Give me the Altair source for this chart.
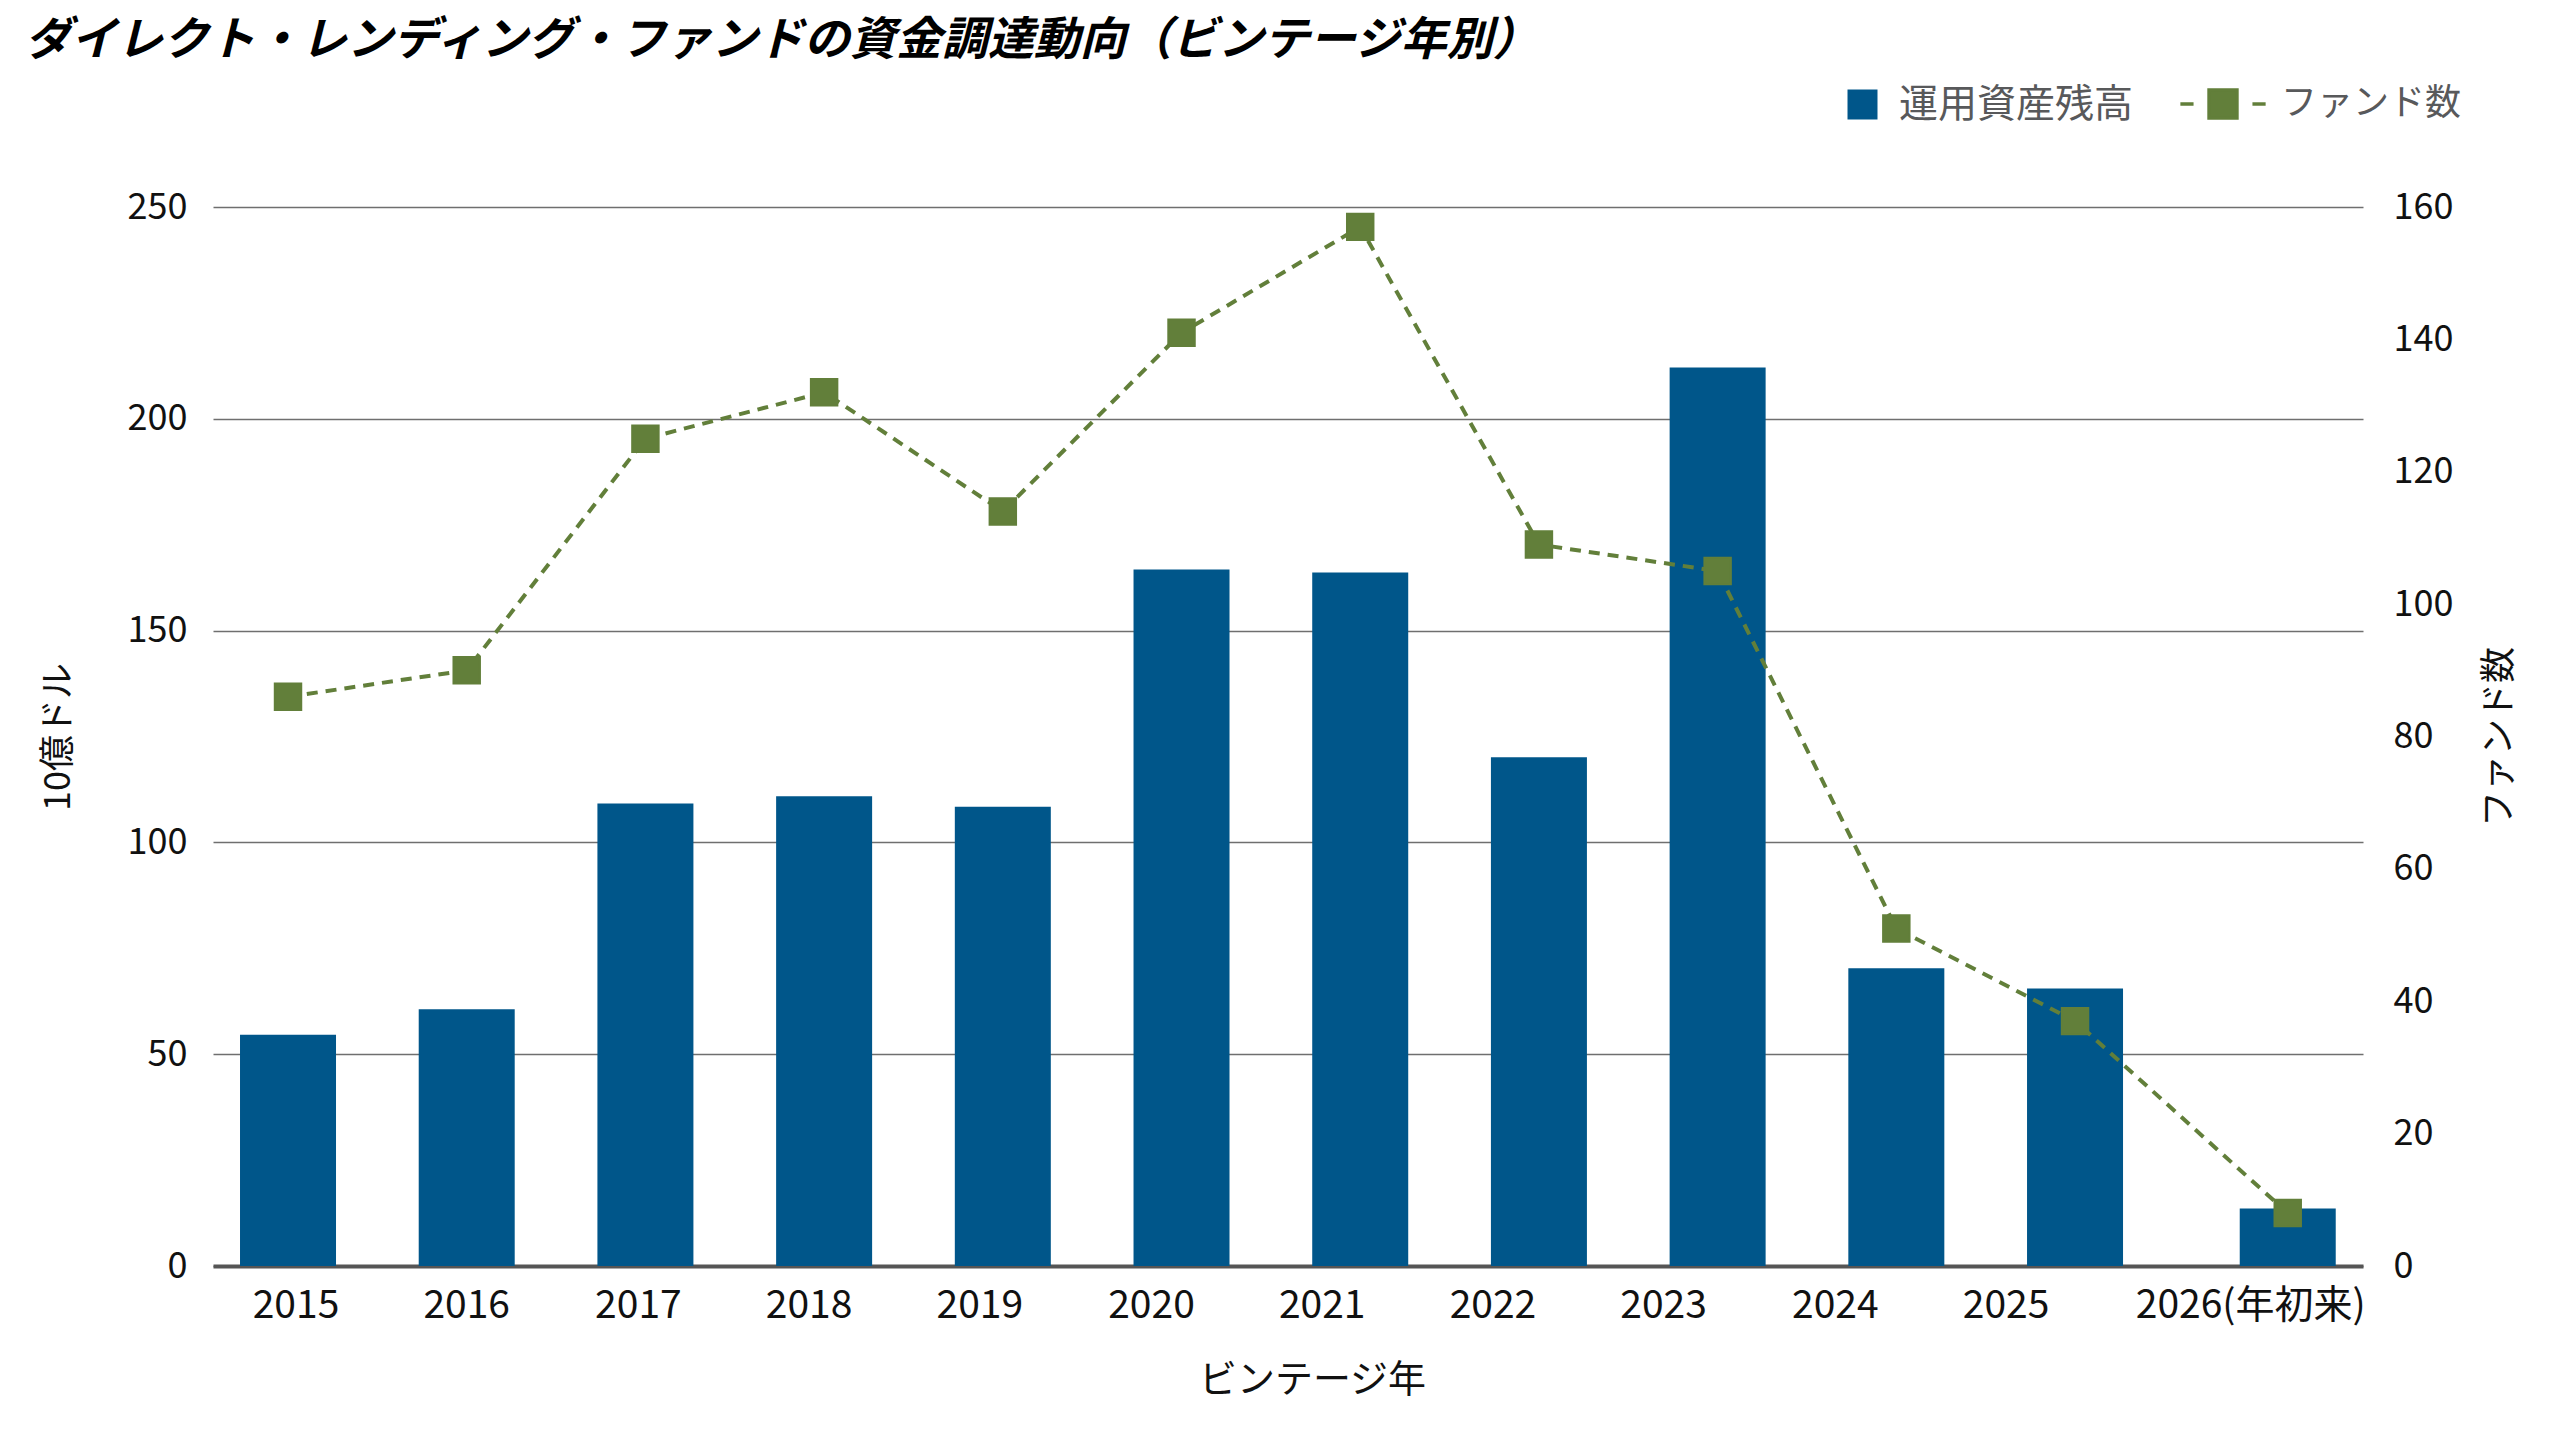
import altair as alt
import pandas as pd

# ---- data ----
years = ["2015", "2016", "2017", "2018", "2019", "2020", "2021", "2022",
         "2023", "2024", "2025", "2026(年初来)"]
aum = [54.6, 60.6, 109.2, 110.9, 108.4, 164.4, 163.7, 120.1, 212.1, 70.3, 65.5, 13.6]
funds = [86, 90, 125, 132, 114, 141, 157, 109, 105, 51, 37, 8]
series_bar = "運用資産残高"
series_line = "ファンド数"
left_ticks = [0, 50, 100, 150, 200, 250]
right_ticks = [0, 20, 40, 60, 80, 100, 120, 140, 160]

TITLE = "ダイレクト・レンディング・ファンドの資金調達動向（ビンテージ年別）"
FONT = "Noto Sans CJK JP"
BLUE = "#00568a"
GREEN = "#627f3a"
TXT = "#111111"

# layout tweaks (style only): the reference's category labels sit on their own
# even grid, and its last (year-to-date) column is pushed a little to the right
LABEL_DX = [8, 0, -7, -15, -23, -30, -38, -46, -54, -61, -69, -3]
LAST_SHIFT = 34

df = pd.DataFrame({
    "year": years,
    "aum": aum,
    "funds": funds,
    "s_bar": [series_bar] * len(years),
    "s_line": [series_line] * len(years),
})

label_offset = {
    "condition": [
        {"test": f"datum.value === '{y}'", "value": d}
        for y, d in zip(years, LABEL_DX) if d != 0
    ],
    "value": 0,
}
shift_last = {"expr": f"datum.year === '{years[-1]}' ? {LAST_SHIFT} : 0"}

x_enc = alt.X(
    "year:N",
    sort=years,
    scale=alt.Scale(paddingInner=0.4628, paddingOuter=0.247, align=0.306),
    axis=alt.Axis(
        title="ビンテージ年", labelAngle=0, labelFont=FONT, labelFontSize=39,
        labelColor=TXT, labelPadding=20, labelLimit=0, ticks=False,
        labelOffset=label_offset,
        domainColor="#555555", domainWidth=4, titleFont=FONT, titleFontSize=38,
        titleFontWeight="normal", titleColor=TXT, titlePadding=36, titleX=1099,
    ),
)

bars = alt.Chart(df).mark_bar(color=BLUE, xOffset=shift_last).encode(
    x=x_enc,
    y=alt.Y(
        "aum:Q",
        scale=alt.Scale(domain=[0, 250]),
        axis=alt.Axis(
            values=left_ticks, title="10億ドル", labelFont=FONT, labelFontSize=36,
            labelColor=TXT, labelPadding=26, ticks=False, domain=False, grid=True,
            gridColor="#6f6f6f", gridWidth=1.5, titleFont=FONT, titleFontSize=36,
            titleFontWeight="normal", titleColor=TXT, titlePadding=50,
        ),
    ),
    fill=alt.Fill(
        "s_bar:N",
        scale=alt.Scale(domain=[series_bar], range=[BLUE]),
        legend=alt.Legend(
            orient="none", legendX=1630, legendY=-122, title=None,
            symbolType="square", symbolSize=900, symbolStrokeWidth=0,
            labelFont=FONT, labelFontSize=39, labelColor="#58595b",
            labelOffset=17, labelLimit=0, padding=0,
        ),
    ),
)

line = alt.Chart(df).mark_line(
    strokeDash=[11, 8], strokeWidth=4, xOffset=shift_last,
    point=alt.OverlayMarkDef(shape="square", size=700, filled=True, fill=GREEN,
                             color=GREEN, xOffset=shift_last),
).encode(
    x=alt.X("year:N", sort=years),
    y=alt.Y(
        "funds:Q",
        scale=alt.Scale(domain=[0, 160]),
        axis=alt.Axis(
            values=right_ticks, orient="right", title="ファンド数", labelFont=FONT,
            labelFontSize=36, labelColor=TXT, labelPadding=30, ticks=False,
            domain=False, grid=False, titleFont=FONT, titleFontSize=36,
            titleFontWeight="normal", titleColor=TXT, titlePadding=30,
            titleAngle=270, titleBaseline="top",
        ),
    ),
    stroke=alt.Stroke(
        "s_line:N",
        scale=alt.Scale(domain=[series_line], range=[GREEN]),
        legend=alt.Legend(
            orient="none", legendX=1992, legendY=-121, title=None,
            symbolType="M-2.75,0H-1.9M-0.9,-0.9H0.9V0.9H-0.9ZM1.9,0H2.75",
            symbolSize=961, labelFont=FONT, labelFontSize=36,
            labelColor="#58595b", labelOffset=40, labelLimit=0, padding=0,
            symbolFillColor=GREEN, symbolStrokeColor=GREEN,
            symbolStrokeWidth=3.5, symbolDash=[1, 0],
        ),
    ),
)

chart = alt.layer(bars, line).resolve_scale(
    y="independent", fill="independent", stroke="independent"
).properties(
    width=2150,
    height=1059,
    autosize=alt.AutoSizeParams(type="none"),
    padding={"left": 213, "top": 207, "right": 197, "bottom": 174},
    title=alt.Title(
        TITLE, anchor="start", frame="group", font=FONT, fontSize=46,
        fontWeight="bold", fontStyle="italic", color="#000000", dx=-188, offset=20,
    ),
).configure_view(stroke=None)

chart.save("out.html", embed_options={"renderer": "svg", "actions": False})
